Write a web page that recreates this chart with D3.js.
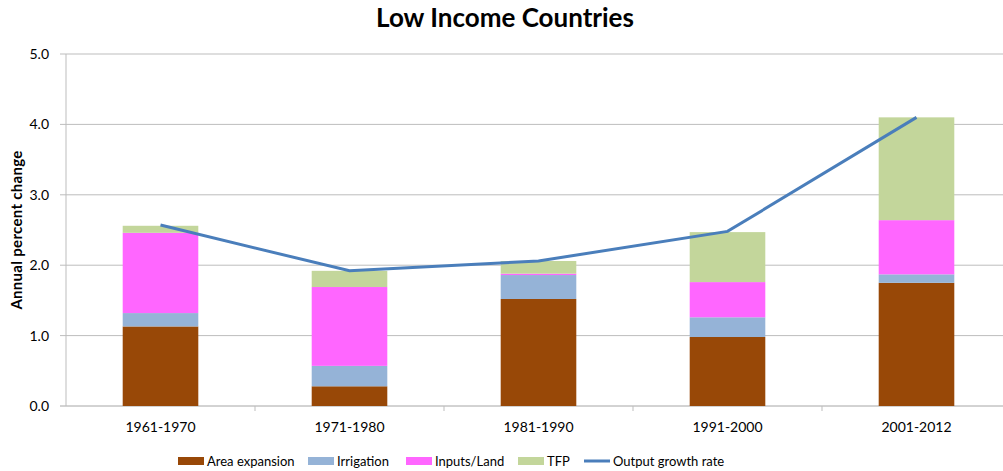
<!DOCTYPE html>
<html>
<head>
<meta charset="utf-8">
<script src="https://cdn.jsdelivr.net/npm/d3@7"></script>
<style>
  body { margin: 0; background: #fff; }
  text { font-family: Lato, "Liberation Sans", sans-serif; fill: #000; }
</style>
</head>
<body>
<div id="chart"></div>
<script>
var svgWidth = 1003;
var svgHeight = 471;

// chart data
var periods = ["1961-1970", "1971-1980", "1981-1990", "1991-2000", "2001-2012"];
var areaExpansion = [1.13, 0.28, 1.52, 0.98, 1.75];
var irrigation = [0.19, 0.29, 0.34, 0.28, 0.12];
var inputsLand = [1.14, 1.12, 0.02, 0.50, 0.77];
var tfp = [0.10, 0.23, 0.18, 0.71, 1.46];
var outputGrowth = [2.57, 1.92, 2.06, 2.48, 4.10];
var yTicks = [0, 1, 2, 3, 4, 5];

var seriesNames = ["Area expansion", "Irrigation", "Inputs/Land", "TFP"];
var seriesColors = ["#984807", "#95B3D7", "#FF66FF", "#C3D69B"];
var lineColor = "#4A7EBB";

var margin = { top: 54, right: -8, bottom: 65, left: 66 };
var width = svgWidth - margin.left - margin.right;
var height = svgHeight - margin.top - margin.bottom;

var svg = d3.select("#chart")
  .append("svg")
  .attr("width", svgWidth)
  .attr("height", svgHeight);

var chartGroup = svg.append("g")
  .attr("transform", `translate(${margin.left}, ${margin.top})`);

// build table rows for the stack
var rows = periods.map(function(p, i) {
  return {
    period: p,
    "Area expansion": areaExpansion[i],
    "Irrigation": irrigation[i],
    "Inputs/Land": inputsLand[i],
    "TFP": tfp[i]
  };
});

var xScale = d3.scaleBand()
  .domain(periods)
  .range([0, width])
  .paddingInner(0.6)
  .paddingOuter(0.3);

var yScale = d3.scaleLinear()
  .domain([0, 5])
  .range([height, 0]);

// gridlines
chartGroup.append("g")
  .selectAll("line")
  .data(yTicks)
  .enter()
  .append("line")
  .attr("x1", -6)
  .attr("x2", width)
  .attr("y1", d => yScale(d))
  .attr("y2", d => yScale(d))
  .attr("stroke", d => d === 0 ? "#a6a6a6" : "#bdbdbd")
  .attr("stroke-width", 1);

// y axis line
chartGroup.append("line")
  .attr("x1", 0).attr("x2", 0)
  .attr("y1", 0).attr("y2", height)
  .attr("stroke", "#bdbdbd");

// y tick labels
chartGroup.append("g")
  .selectAll("text")
  .data(yTicks)
  .enter()
  .append("text")
  .attr("x", -17)
  .attr("y", d => yScale(d))
  .attr("dy", "0.35em")
  .attr("text-anchor", "end")
  .style("font-size", "14px")
  .text(d => d3.format(".1f")(d));

// x tick marks between categories
var step = xScale.step();
chartGroup.append("g")
  .selectAll("line")
  .data(d3.range(1, periods.length))
  .enter()
  .append("line")
  .attr("x1", d => d * step)
  .attr("x2", d => d * step)
  .attr("y1", height)
  .attr("y2", height + 5)
  .attr("stroke", "#bdbdbd");

// x labels
chartGroup.append("g")
  .selectAll("text")
  .data(periods)
  .enter()
  .append("text")
  .attr("x", d => xScale(d) + xScale.bandwidth() / 2)
  .attr("y", height + 26)
  .attr("text-anchor", "middle")
  .style("font-size", "14px")
  .text(d => d);

// stacked bars
var stack = d3.stack().keys(seriesNames);
var stacked = stack(rows);

chartGroup.append("g")
  .selectAll("g")
  .data(stacked)
  .enter()
  .append("g")
  .attr("fill", (d, i) => seriesColors[i])
  .selectAll("rect")
  .data(d => d)
  .enter()
  .append("rect")
  .attr("x", d => xScale(d.data.period))
  .attr("width", xScale.bandwidth())
  .attr("y", d => yScale(d[1]))
  .attr("height", d => yScale(d[0]) - yScale(d[1]));

// output growth line
var line = d3.line()
  .x((d, i) => xScale(periods[i]) + xScale.bandwidth() / 2)
  .y(d => yScale(d));

chartGroup.append("path")
  .datum(outputGrowth)
  .attr("d", line)
  .attr("fill", "none")
  .attr("stroke", lineColor)
  .attr("stroke-width", 3);

// title
svg.append("text")
  .attr("x", 505)
  .attr("y", 27)
  .attr("text-anchor", "middle")
  .style("font-size", "26px")
  .style("font-weight", "bold")
  .text("Low Income Countries");

// y axis title
svg.append("text")
  .attr("transform", "rotate(-90)")
  .attr("x", -230)
  .attr("y", 22)
  .attr("text-anchor", "middle")
  .style("font-size", "15px")
  .style("font-weight", "bold")
  .style("letter-spacing", "0.3px")
  .text("Annual percent change");

// legend
var legendItems = [
  { name: "Area expansion", x: 178, type: "rect", color: seriesColors[0] },
  { name: "Irrigation", x: 308, type: "rect", color: seriesColors[1] },
  { name: "Inputs/Land", x: 406, type: "rect", color: seriesColors[2] },
  { name: "TFP", x: 518, type: "rect", color: seriesColors[3] },
  { name: "Output growth rate", x: 584, type: "line", color: lineColor }
];

var legend = svg.append("g").attr("transform", "translate(0, 461)");

legendItems.forEach(function(item) {
  if (item.type === "rect") {
    legend.append("rect")
      .attr("x", item.x)
      .attr("y", -4)
      .attr("width", 26)
      .attr("height", 8)
      .attr("fill", item.color);
  } else {
    legend.append("line")
      .attr("x1", item.x)
      .attr("x2", item.x + 26)
      .attr("y1", 0)
      .attr("y2", 0)
      .attr("stroke", item.color)
      .attr("stroke-width", 3);
  }
  legend.append("text")
    .attr("x", item.x + 29)
    .attr("y", 0)
    .attr("dy", "0.35em")
    .style("font-size", "13px")
    .text(item.name);
});
</script>
</body>
</html>
